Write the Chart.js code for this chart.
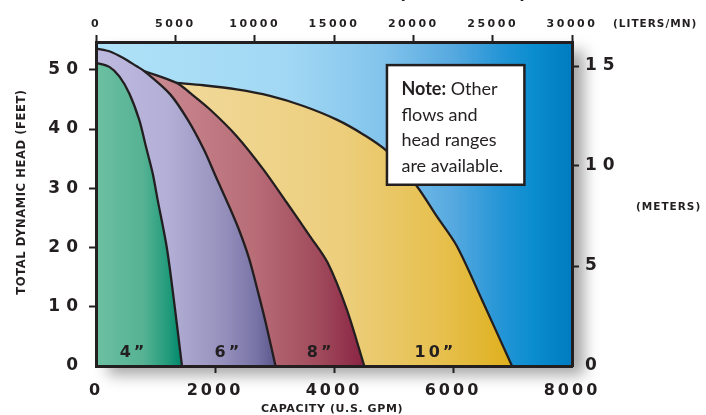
<!DOCTYPE html>
<html lang="en">
<head>
<meta charset="UTF-8">
<title>Pump capacity chart</title>
<script src="https://cdn.jsdelivr.net/npm/chart.js@4"></script>
<style>
  html, body { margin: 0; padding: 0; background: #fff; }
  #wrap { width: 706px; height: 415px; }
</style>
</head>
<body>
<div id="wrap"><canvas id="chart" width="706" height="415"></canvas></div>
<script>
// ---------- Data ----------
// capacity in U.S. GPM, total dynamic head in feet
const gpm4  = [0, 224, 392, 560, 728, 840, 953, 1037, 1193, 1328, 1445];
const head4 = [51.2, 50.5, 48.9, 46.0, 41.5, 37.0, 32.5, 28.0, 19.8, 9.6, 0];

const gpm6  = [0, 235, 459, 684, 810, 1244, 1546, 1815, 2017, 2218, 2403, 2571, 2728, 2869, 3017];
const head6 = [53.6, 53.1, 52.0, 50.6, 49.8, 45.9, 41.5, 36.5, 31.9, 27.4, 23.0, 18.2, 12.3, 6.6, 0];

const gpm8  = [810, 1356, 1580, 1916, 2365, 2812, 3205, 3597, 3890, 4213, 4509];
const head8 = [49.8, 47.8, 46.1, 43.3, 38.8, 33.2, 27.6, 21.9, 17.5, 9.6, 0];

const gpm10  = [1356, 1803, 2365, 2924, 3484, 4045, 4492, 4886, 5390, 5726, 6062, 6490, 6992];
const head10 = [47.8, 47.4, 46.7, 45.6, 43.9, 41.6, 39.1, 36.3, 30.4, 25.3, 20.3, 11.1, 0];

const bandNames = ['4”', '6”', '8”', '10”'];
const labelGpm  = [605, 2200, 3750, 5680];
const labelHead = 2.2;

// axis ranges and tick steps
const gpmRange    = [0, 8000];   const gpmStep    = 2000;
const literRange  = [0, 30000];  const literStep  = 5000;
const feetRange   = [0, 54.7];   const feetStep   = 10;
const meterRange  = [0, 16.2];   const meterStep  = 5;

const noteLines = [['Note:', ' Other'], ['', 'flows and'], ['', 'head ranges'], ['', 'are available.']];

// ---------- Styles ----------
const INK = '#231f20';
const EXT = '"DejaVu Sans", sans-serif';

const skyStops = [[0, '#afe2f8'], [0.4, '#a2d8f4'], [0.6, '#83c4ec'], [0.75, '#56a9e0'],
                  [0.85, '#2595d6'], [0.92, '#0a8dcf'], [1, '#007bc0']];

// gradient extents in GPM, then colour stops
const bandStyles = [
  [0,   1450, [[0, '#6cc0a2'], [0.55, '#55b293'], [0.85, '#1f9a7a'], [1, '#00866a']]],
  [0,   3010, [[0, '#bdb9df'], [0.4, '#b3afd6'], [0.7, '#9792bd'], [0.9, '#7773a6'], [1, '#5c588c']]],
  [800, 4500, [[0, '#cc8c93'], [0.5, '#b86d77'], [0.8, '#a04a5b'], [1, '#8a2444']]],
  [1300, 7000, [[0, '#f1d99b'], [0.5, '#ecce7c'], [0.8, '#e6bf4c'], [1, '#deaf1c']]],
];

const series = [[gpm4, head4], [gpm6, head6], [gpm8, head8], [gpm10, head10]];

function hGrad(chart, from, to, stops) {
  const xs = chart.scales.x;
  const g = chart.ctx.createLinearGradient(xs.getPixelForValue(from), 0, xs.getPixelForValue(to), 0);
  stops.forEach(([o, c]) => g.addColorStop(o, c));
  return g;
}

// fixes the box size of a scale and draws its labels with extra letter spacing
function fitAndSpace(size, spacing) {
  return scale => {
    if (scale.isHorizontal()) scale.height = size; else scale.width = size;
    if (!scale._spaced) {
      const base = scale.draw;
      scale.draw = function (area) {
        const c = this.ctx;
        c.letterSpacing = spacing;
        base.call(this, area);
        c.letterSpacing = '0px';
      };
      scale._spaced = true;
    }
  };
}

function axis(opts) {
  const hide = opts.hide || [];
  return {
    type: 'linear',
    position: opts.position,
    min: opts.range[0],
    max: opts.range[1],
    afterFit: fitAndSpace(opts.size, opts.spacing),
    border: { display: true, color: INK, width: 3, z: 1 },
    grid: {
      display: true, drawOnChartArea: false, drawTicks: true, tickLength: 7, tickWidth: 2, z: 1,
      tickColor: ctx => hide.includes(ctx.tick && ctx.tick.value) ? 'rgba(0,0,0,0)' : INK,
    },
    ticks: {
      stepSize: opts.step, includeBounds: false, padding: opts.padding, color: INK, z: 1,
      font: { family: EXT, size: opts.font, weight: 'bold' },
      callback: v => String(v),
    },
  };
}

// ---------- Decorations ----------
const decor = {
  id: 'decor',
  beforeDraw(chart) {
    const { ctx, chartArea: a } = chart;
    const g = ctx.createLinearGradient(a.left, 0, a.right, 0);
    skyStops.forEach(([o, c]) => g.addColorStop(o, c));
    ctx.save();
    ctx.shadowColor = 'rgba(0,0,0,0.35)';
    ctx.shadowBlur = 14;
    ctx.shadowOffsetX = 12;
    ctx.shadowOffsetY = 9;
    ctx.fillStyle = g;
    ctx.fillRect(a.left, a.top, a.right - a.left, a.bottom - a.top);
    ctx.restore();
  },
  afterDraw(chart) {
    const { ctx, chartArea: a, scales } = chart;
    const xs = scales.x, ys = scales.y;
    ctx.save();
    ctx.fillStyle = INK;

    // band names
    ctx.font = `bold 16px ${EXT}`;
    ctx.letterSpacing = '3px';
    ctx.textAlign = 'center';
    ctx.textBaseline = 'middle';
    bandNames.forEach((t, i) => ctx.fillText(t, xs.getPixelForValue(labelGpm[i]) + 1.5, ys.getPixelForValue(labelHead)));

    // axis titles
    ctx.font = `bold 11px ${EXT}`;
    ctx.letterSpacing = '0.6px';
    ctx.fillText('CAPACITY (U.S. GPM)', (a.left + a.right) / 2 - 2, 409);
    ctx.save();
    ctx.translate(a.left - 74, (a.top + a.bottom) / 2 - 12);
    ctx.rotate(-Math.PI / 2);
    ctx.font = `bold 11.5px ${EXT}`;
    ctx.fillText('TOTAL DYNAMIC HEAD (FEET)', 0, 0);
    ctx.restore();
    ctx.textAlign = 'left';
    ctx.font = `bold 10.5px ${EXT}`;
    ctx.letterSpacing = '1px';
    ctx.fillText('(LITERS/MN)', a.right + 41, 24);
    ctx.fillText('(METERS)', a.right + 64, 207);

    // top title, cut off by the page edge
    ctx.font = `bold 18px ${EXT}`;
    ctx.letterSpacing = '0px';
    ctx.textBaseline = 'alphabetic';
    ctx.fillText('(', 398, -1);
    ctx.fillText(')', 519, -1);

    // note box
    const bx = xs.getPixelForValue(4890), bx2 = xs.getPixelForValue(7200);
    const by = ys.getPixelForValue(50.8), by2 = ys.getPixelForValue(30.6);
    ctx.fillStyle = '#fff';
    ctx.fillRect(bx, by, bx2 - bx, by2 - by);
    ctx.strokeStyle = INK;
    ctx.lineWidth = 2.5;
    ctx.strokeRect(bx, by, bx2 - bx, by2 - by);
    ctx.fillStyle = INK;
    noteLines.forEach(([bold, rest], i) => {
      const y = by + 30 + i * 25.5;
      let x = bx + 14.5;
      if (bold) {
        ctx.font = 'bold 18px Lato, sans-serif';
        ctx.fillText(bold, x, y);
        x += ctx.measureText(bold).width;
      }
      ctx.font = '18px Lato, sans-serif';
      ctx.fillText(rest, x, y);
    });
    ctx.restore();
  },
};

// ---------- Chart ----------
new Chart(document.getElementById('chart'), {
  type: 'line',
  data: {
    datasets: series.map(([xs, ys], i) => ({
      label: bandNames[i],
      data: xs.map((x, j) => ({ x, y: ys[j] })),
      borderColor: INK,
      borderWidth: 2.3,
      borderJoinStyle: 'round',
      pointRadius: 0,
      fill: 'origin',
      tension: 0.3,
      backgroundColor: ctx => ctx.chart.chartArea
        ? hGrad(ctx.chart, ...bandStyles[i])
        : bandStyles[i][2][0][1],
    })),
  },
  options: {
    responsive: false,
    devicePixelRatio: 1,
    animation: false,
    layout: { padding: 0 },
    plugins: { legend: { display: false }, tooltip: { enabled: false } },
    scales: {
      x:  axis({ position: 'bottom', range: gpmRange,   step: gpmStep,   size: 49,  spacing: '3px', font: 16, padding: 8, hide: [0, 8000] }),
      x2: axis({ position: 'top',    range: literRange, step: literStep, size: 42,  spacing: '2.5px', font: 11, padding: 4 }),
      y:  axis({ position: 'left',   range: feetRange,  step: feetStep,  size: 96,  spacing: '6px', font: 17, padding: 5, hide: [0] }),
      y2: axis({ position: 'right',  range: meterRange, step: meterStep, size: 134, spacing: '6px', font: 17, padding: 6, hide: [0] }),
    },
  },
  plugins: [decor],
});
</script>
</body>
</html>
